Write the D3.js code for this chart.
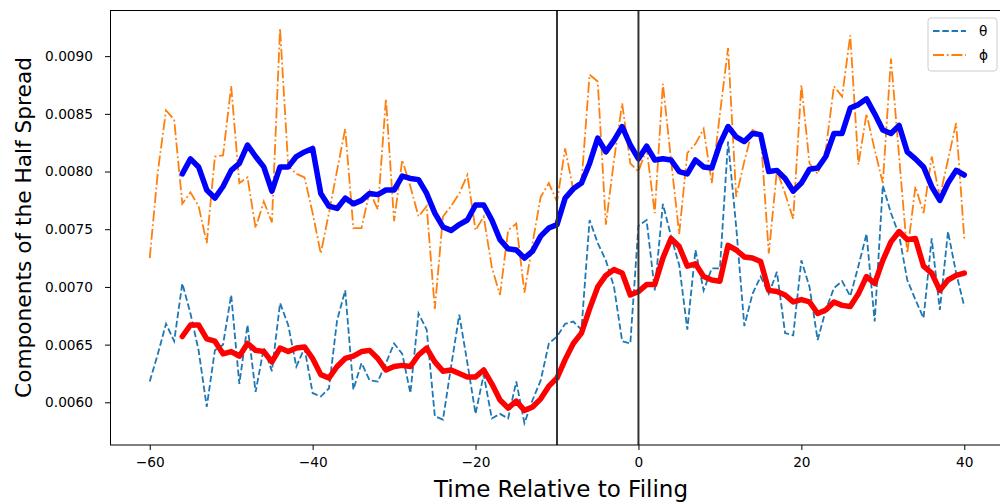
<!DOCTYPE html>
<html>
<head>
<meta charset="utf-8">
<script src="https://cdn.jsdelivr.net/npm/d3@7"></script>
<style>
  body { margin: 0; background: white; }
  text { font-family: "DejaVu Sans", sans-serif; fill: #000; }
</style>
</head>
<body>
<div id="d3-container"></div>
<script>
// days relative to the filing date
const days = [-60,-59,-58,-57,-56,-55,-54,-53,-52,-51,-50,-49,-48,-47,-46,-45,-44,-43,-42,-41,
  -40,-39,-38,-37,-36,-35,-34,-33,-32,-31,-30,-29,-28,-27,-26,-25,-24,-23,-22,-21,
  -20,-19,-18,-17,-16,-15,-14,-13,-12,-11,-10,-9,-8,-7,-6,-5,-4,-3,-2,-1,
  0,1,2,3,4,5,6,7,8,9,10,11,12,13,14,15,16,17,18,19,
  20,21,22,23,24,25,26,27,28,29,30,31,32,33,34,35,36,37,38,39,40];

// theta component (dashed)
const theta = [0.00618,0.00642,0.00668,0.00653,0.00703,0.00677,0.00645,0.00596,0.00645,0.00650,
  0.00693,0.00616,0.00667,0.00609,0.00647,0.00627,0.00686,0.00667,0.00631,0.00647,
  0.00608,0.00605,0.00612,0.00671,0.00697,0.00611,0.00634,0.00619,0.00618,0.00634,
  0.00651,0.00642,0.00608,0.00677,0.00663,0.00588,0.00585,0.00631,0.00676,0.00634,
  0.00590,0.00624,0.00586,0.00590,0.00586,0.00618,0.00582,0.00602,0.00619,0.00651,
  0.00657,0.00668,0.00670,0.00663,0.00758,0.00738,0.00723,0.00700,0.00653,0.00651,
  0.00753,0.00758,0.00697,0.00772,0.00744,0.00719,0.00663,0.00732,0.00697,0.00716,
  0.00716,0.00826,0.00752,0.00666,0.00694,0.00709,0.00694,0.00713,0.00660,0.00658,
  0.00723,0.00700,0.00654,0.00680,0.00699,0.00705,0.00692,0.00718,0.00746,0.00670,
  0.00788,0.00764,0.00745,0.00706,0.00689,0.00673,0.00742,0.00680,0.00748,0.00712,0.00683];

// phi component (dash-dot)
const phi = [0.00725,0.00800,0.00853,0.00845,0.00772,0.00782,0.00770,0.00738,0.00813,0.00814,
  0.00874,0.00790,0.00795,0.00751,0.00774,0.00756,0.00924,0.00805,0.00798,0.00795,
  0.00764,0.00729,0.00764,0.00801,0.00837,0.00751,0.00751,0.00783,0.00767,0.00863,
  0.00757,0.00810,0.00787,0.00761,0.00770,0.00681,0.00761,0.00770,0.00781,0.00797,
  0.00749,0.00761,0.00717,0.00693,0.00749,0.00755,0.00695,0.00738,0.00778,0.00790,
  0.00774,0.00820,0.00784,0.00790,0.00884,0.00878,0.00754,0.00810,0.00859,0.00807,
  0.00800,0.00820,0.00764,0.00876,0.00810,0.00746,0.00816,0.00824,0.00837,0.00790,
  0.00850,0.00907,0.00778,0.00809,0.00836,0.00833,0.00729,0.00801,0.00781,0.00759,
  0.00875,0.00807,0.00798,0.00819,0.00874,0.00865,0.00918,0.00806,0.00850,0.00819,
  0.00790,0.00898,0.00813,0.00729,0.00787,0.00764,0.00813,0.00778,0.00810,0.00842,0.00742];

// smoothed curves start at day -56
const smoothDays = days.slice(4);

const phiSmooth = [0.00798,0.00811,0.00804,0.00784,0.00777,0.00787,0.00801,0.00807,0.00823,0.00813,
  0.00804,0.00783,0.00804,0.00804,0.00813,0.00817,0.00820,0.00781,0.00770,0.00768,
  0.00777,0.00772,0.00775,0.00781,0.00780,0.00784,0.00784,0.00796,0.00794,0.00793,
  0.00781,0.00764,0.00752,0.00749,0.00754,0.00758,0.00771,0.00771,0.00758,0.00741,
  0.00733,0.00732,0.00725,0.00731,0.00744,0.00751,0.00754,0.00777,0.00785,0.00790,
  0.00807,0.00829,0.00817,0.00827,0.00839,0.00823,0.00811,0.00822,0.00810,0.00811,
  0.00810,0.00800,0.00798,0.00810,0.00804,0.00803,0.00824,0.00839,0.00830,0.00826,
  0.00833,0.00832,0.00800,0.00801,0.00794,0.00783,0.00790,0.00802,0.00803,0.00813,
  0.00833,0.00833,0.00855,0.00858,0.00863,0.00850,0.00836,0.00833,0.00840,0.00817,
  0.00811,0.00804,0.00787,0.00775,0.00790,0.00801,0.00797];

const thetaSmooth = [0.00657,0.00667,0.00667,0.00655,0.00653,0.00642,0.00644,0.00640,0.00651,0.00645,
  0.00644,0.00635,0.00647,0.00644,0.00647,0.00648,0.00638,0.00624,0.00621,0.00631,
  0.00638,0.00640,0.00644,0.00645,0.00638,0.00628,0.00631,0.00632,0.00631,0.00641,
  0.00647,0.00635,0.00627,0.00628,0.00625,0.00622,0.00622,0.00628,0.00616,0.00602,
  0.00595,0.00601,0.00593,0.00596,0.00603,0.00614,0.00621,0.00637,0.00651,0.00660,
  0.00681,0.00700,0.00710,0.00715,0.00712,0.00693,0.00696,0.00702,0.00702,0.00725,
  0.00742,0.00735,0.00718,0.00720,0.00709,0.00706,0.00705,0.00736,0.00732,0.00726,
  0.00725,0.00722,0.00697,0.00696,0.00693,0.00687,0.00689,0.00687,0.00677,0.00680,
  0.00687,0.00684,0.00683,0.00694,0.00709,0.00703,0.00723,0.00739,0.00748,0.00741,
  0.00742,0.00718,0.00712,0.00697,0.00706,0.00710,0.00712];

const eventDays = [-10, 0];
const xTicks = [-60, -40, -20, 0, 20, 40];
const yTicks = [0.0060, 0.0065, 0.0070, 0.0075, 0.0080, 0.0085, 0.0090];

const W = 1000, H = 504;

const svg = d3.select('#d3-container')
  .append('svg')
  .attr('width', W)
  .attr('height', H);

let x = d3.scaleLinear().domain([-65, 45]).range([109, 1005]);
let y = d3.scaleLinear().domain([0.00563, 0.00940]).range([445, 10]);

svg.append('clipPath').attr('id', 'plot')
  .append('rect')
  .attr('x', 110).attr('y', 10)
  .attr('width', 895).attr('height', 435);

const plot = svg.append('g').attr('clip-path', 'url(#plot)');

const line = (xs) => d3.line()
  .x((d, i) => x(xs[i]))
  .y(d => y(d));

plot.append('path')
  .datum(theta)
  .attr('d', line(days))
  .attr('fill', 'none')
  .attr('stroke', '#1f77b4')
  .attr('stroke-width', 1.8)
  .attr('stroke-dasharray', '6.5,2.8');

plot.append('path')
  .datum(phi)
  .attr('d', line(days))
  .attr('fill', 'none')
  .attr('stroke', '#ff7f0e')
  .attr('stroke-width', 1.8)
  .attr('stroke-dasharray', '11,2.8,1.8,2.8');

plot.append('path')
  .datum(phiSmooth)
  .attr('d', line(smoothDays))
  .attr('fill', 'none')
  .attr('stroke', '#0000ff')
  .attr('stroke-width', 5.5)
  .attr('stroke-linejoin', 'round')
  .attr('stroke-linecap', 'round');

plot.append('path')
  .datum(thetaSmooth)
  .attr('d', line(smoothDays))
  .attr('fill', 'none')
  .attr('stroke', '#ff0000')
  .attr('stroke-width', 5.5)
  .attr('stroke-linejoin', 'round')
  .attr('stroke-linecap', 'round');

plot.selectAll('line.event')
  .data(eventDays)
  .join('line')
  .attr('class', 'event')
  .attr('x1', d => x(d)).attr('x2', d => x(d))
  .attr('y1', 10).attr('y2', 445)
  .attr('stroke', '#333')
  .attr('stroke-width', 2);

// axes
const xAxis = svg.append('g')
  .attr('transform', 'translate(0,445)')
  .call(d3.axisBottom(x).tickValues(xTicks).tickSize(5).tickPadding(7));
const yAxis = svg.append('g')
  .attr('transform', 'translate(110,0)')
  .call(d3.axisLeft(y).tickValues(yTicks).tickFormat(d3.format('.4f')).tickSize(5).tickPadding(12));

[xAxis, yAxis].forEach(a => {
  a.select('.domain').remove();
  a.selectAll('.tick line').attr('stroke', '#000').attr('stroke-width', 1);
  a.selectAll('.tick text')
    .style('font-family', '"DejaVu Sans", sans-serif')
    .style('font-size', '13.7px')
    .attr('fill', '#000');
});

// frame
svg.append('rect')
  .attr('x', 110.5).attr('y', 10.5)
  .attr('width', 900).attr('height', 434.5)
  .attr('fill', 'none')
  .attr('stroke', '#000')
  .attr('stroke-width', 1);

// axis titles
svg.append('text')
  .attr('x', 561).attr('y', 497)
  .attr('text-anchor', 'middle')
  .style('font-size', '23px')
  .text('Time Relative to Filing');

svg.append('text')
  .attr('transform', 'translate(31,227.5) rotate(-90)')
  .attr('text-anchor', 'middle')
  .style('font-size', '21.7px')
  .text('Components of the Half Spread');

// legend
const legend = svg.append('g');
legend.append('rect')
  .attr('x', 928).attr('y', 18)
  .attr('width', 69).attr('height', 53)
  .attr('rx', 3)
  .attr('fill', 'white').attr('fill-opacity', 0.8)
  .attr('stroke', '#ccc');

const legendItems = [
  {label: 'θ', color: '#1f77b4', dash: '6.5,2.8'},
  {label: 'ϕ', color: '#ff7f0e', dash: '11,2.8,1.8,2.8'}
];
legendItems.forEach((d, i) => {
  const ly = 31 + i * 24;
  legend.append('line')
    .attr('x1', 933).attr('x2', 966)
    .attr('y1', ly).attr('y2', ly)
    .attr('stroke', d.color)
    .attr('stroke-width', 1.8)
    .attr('stroke-dasharray', d.dash);
  legend.append('text')
    .attr('x', 979).attr('y', ly + 5)
    .style('font-size', '13.7px')
    .text(d.label);
});
</script>
</body>
</html>
